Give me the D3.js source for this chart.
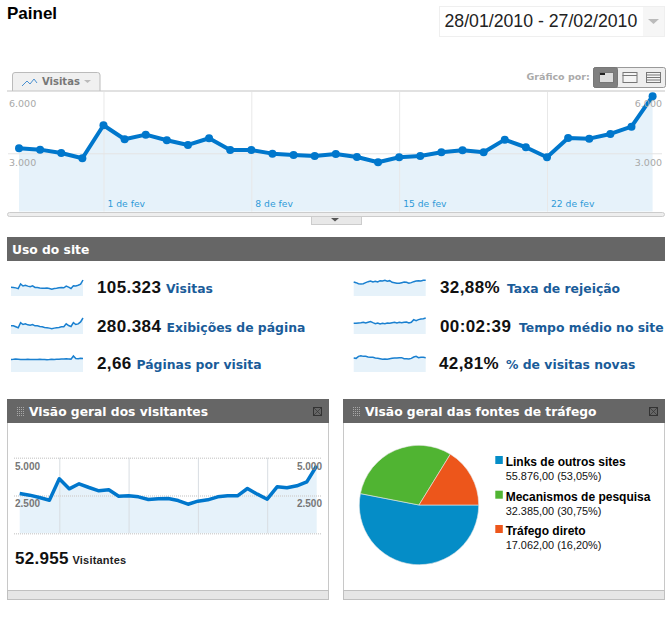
<!DOCTYPE html>
<html>
<head>
<meta charset="utf-8">
<style>
html, body { margin: 0; padding: 0; background: #fff; }
svg { display: block; }
text { font-family: "DejaVu Sans", Verdana, sans-serif; }
text.arial { font-family: "Liberation Sans", Arial, sans-serif; }
</style>
</head>
<body>
<svg id="page" width="670" height="626"></svg>
<script src="https://cdn.jsdelivr.net/npm/d3@7"></script>
<script>
// daily values (28/01 .. 27/02)
var visits = [3258, 3186, 3016, 2742, 4444, 3722, 3959, 3670, 3428, 3773, 3170, 3170, 2980, 2913, 2861, 2964,
    2809, 2536, 2794, 2861, 3052, 3155, 3052, 3701, 3309, 2794, 3789, 3753, 3995, 4371, 5938];
var visitors = [2632, 2522, 2367, 2190, 3606, 2942, 3274, 3030, 2809, 2876, 2455, 2477, 2411, 2234, 2278, 2300,
    2168, 1924, 2124, 2212, 2411, 2477, 2477, 2964, 2588, 2256, 3075, 3008, 3141, 3406, 4468];
var pageViews = [8750, 8750, 7700, 6650, 12250, 10150, 10850, 9800, 9450, 10150, 8750, 8750, 8050, 7700, 7000, 6650,
    6300, 5600, 6300, 6650, 7000, 7700, 7700, 10850, 9100, 8050, 12250, 10150, 10850, 12950, 17150];
var pagesPerVisit = [2.60, 2.62, 2.66, 2.64, 2.58, 2.60, 2.58, 2.62, 2.60, 2.56, 2.60, 2.58, 2.64, 2.60, 2.60, 2.54,
    2.56, 2.62, 2.60, 2.62, 2.64, 2.68, 2.70, 2.72, 2.70, 2.66, 3.30, 2.80, 2.72, 2.84, 2.80];
var bounceRate = [32.1, 30.6, 28.3, 27.5, 28.3, 30.6, 32.9, 34.4, 32.1, 33.7, 32.1, 35.2, 34.4, 35.9, 33.7, 35.2,
    31.4, 30.6, 29.1, 29.1, 30.6, 32.1, 31.4, 29.1, 30.6, 32.9, 34.4, 35.2, 34.4, 35.9, 35.9];
var timeOnSite = [144, 144, 149, 153, 158, 149, 158, 167, 153, 140, 149, 135, 144, 140, 149, 144,
    153, 158, 149, 158, 153, 158, 162, 149, 158, 194, 180, 194, 203, 207, 216];
var newVisits = [42.8, 41.8, 47.9, 50.0, 47.9, 47.9, 45.9, 44.9, 44.9, 42.8, 41.8, 40.8, 38.8, 39.8, 38.8, 40.8,
    41.8, 42.8, 42.8, 43.9, 43.9, 40.8, 40.8, 39.8, 41.8, 45.9, 47.9, 43.9, 44.9, 44.9, 43.9];

var dayTicks = [4, 11, 18, 25];
var dayLabels = ['1 de fev', '8 de fev', '15 de fev', '22 de fev'];

var metricNames = ['Visitas', 'Exibições de página', 'Páginas por visita', 'Taxa de rejeição', 'Tempo médio no site', '% de visitas novas'];
var metricTotals = ['105.323', '280.384', '2,66', '32,88%', '00:02:39', '42,81%'];
var metricSeries = [visits, pageViews, pagesPerVisit, bounceRate, timeOnSite, newVisits];
var metricMax = [5938, 17150, 3.3, 36.7, 216, 49];

var sourceNames = ['Links de outros sites', 'Mecanismos de pesquisa', 'Tráfego direto'];
var sourceValues = [55876, 32385, 17062];
var sourceLabels = ['55.876,00 (53,05%)', '32.385,00 (30,75%)', '17.062,00 (16,20%)'];
var sourceColors = ['#058dc7', '#50b432', '#ed561b'];

var svg = d3.select('#page');
var lineBlue = '#0077cc';
var fillBlue = '#e6f2fa';

function rect(g, x, y, w, h, fill, stroke) {
    return g.append('rect').attr('x', x).attr('y', y).attr('width', w).attr('height', h)
        .attr('fill', fill).attr('stroke', stroke || 'none');
}

function label(g, x, y, str, size, weight, color, anchor) {
    return g.append('text').attr('x', x).attr('y', y).text(str)
        .style('font-size', size + 'px').style('font-weight', weight)
        .attr('fill', color).attr('text-anchor', anchor || 'start');
}

function timeChart(opts) {
    var g = svg.append('g');
    var x = d3.scaleLinear().domain([0, opts.data.length - 1]).range(opts.xRange);
    var y = d3.scaleLinear().domain([0, opts.yMax]).range(opts.yRange);
    var area = d3.area().x(function(d, i) { return x(i); }).y0(y(0)).y1(function(d) { return y(d); });
    var line = d3.line().x(function(d, i) { return x(i); }).y(function(d) { return y(d); });

    g.append('path').attr('d', area(opts.data)).attr('fill', fillBlue);

    // vertical grid + date labels
    var xAxis = d3.axisBottom(x).tickValues(dayTicks)
        .tickSize(opts.gridTop - opts.yRange[0])
        .tickFormat(function(d, i) { return opts.dayLabels ? opts.dayLabels[i] : ''; });
    var gx = g.append('g').attr('transform', 'translate(0,' + opts.yRange[0] + ')').call(xAxis);
    gx.select('.domain').remove();
    gx.selectAll('line').attr('stroke', opts.gridColor);
    gx.selectAll('text').attr('y', -5).attr('x', 3.5).attr('dy', 0).attr('text-anchor', 'start')
        .style('font-size', '9.2px').style('font-family', '"DejaVu Sans"').attr('fill', '#2f9ad8');

    // horizontal grid
    var gy = g.append('g').attr('transform', 'translate(' + opts.axisX[0] + ',0)')
        .call(d3.axisLeft(y).tickValues(opts.gridValues).tickSize(opts.axisX[0] - opts.axisX[1]).tickFormat(''));
    gy.select('.domain').remove();
    gy.selectAll('line').attr('stroke', opts.hColor).attr('stroke-dasharray', opts.hDash || null)
        .attr('stroke-width', opts.hDash ? 1.5 : 1);

    g.append('path').attr('d', line(opts.data)).attr('fill', 'none')
        .attr('stroke', lineBlue).attr('stroke-width', opts.lineWidth).attr('stroke-linejoin', 'round');

    if (opts.dots) {
        g.selectAll('circle').data(opts.data).enter().append('circle')
            .attr('cx', function(d, i) { return x(i); }).attr('cy', function(d) { return y(d); })
            .attr('r', opts.dots).attr('fill', lineBlue);
    }

    // y labels, printed just under their gridline on both sides
    var axes = [[d3.axisRight(y), opts.axisX[0] + 1, 'start'], [d3.axisLeft(y), opts.axisX[1], 'end']];
    axes.forEach(function(a) {
        var ga = g.append('g').attr('transform', 'translate(' + a[1] + ',' + opts.labelDrop + ')')
            .call(a[0].tickValues(opts.yTicks).tickSize(0).tickPadding(0).tickFormat(function(d) {
                return d3.format('.3f')(d / 1000);
            }));
        ga.select('.domain').remove();
        ga.selectAll('text').attr('x', 0).attr('dy', 0).attr('text-anchor', a[2])
            .style('font-size', opts.tickSize + 'px').style('font-weight', opts.tickWeight)
            .style('font-family', opts.tickFont).attr('fill', opts.tickColor);
    });
    return g;
}

function sparkline(data, max, x0, baseY) {
    var x = d3.scaleLinear().domain([0, data.length - 1]).range([x0, x0 + 72]);
    var y = d3.scaleLinear().domain([0, max]).range([baseY, baseY - 16]);
    var area = d3.area().x(function(d, i) { return x(i); }).y0(baseY).y1(function(d) { return y(d); });
    var line = d3.line().x(function(d, i) { return x(i); }).y(function(d) { return y(d); });
    svg.append('path').attr('d', area(data)).attr('fill', fillBlue);
    svg.append('path').attr('d', line(data)).attr('fill', 'none').attr('stroke', '#1a80d0').attr('stroke-width', 1.5);
}

function panelHeader(x, w, title) {
    rect(svg, x + 0.5, 399.5, w, 200, '#fff', '#c8c8c8');
    rect(svg, x, 399, w + 1, 24, '#666');
    rect(svg, x + 0.5, 590.5, w, 9, '#e6e6e6', '#c0c0c0');
    d3.range(4).forEach(function(i) {
        svg.append('line').attr('x1', x + 10.5 + i * 2).attr('x2', x + 10.5 + i * 2).attr('y1', 407).attr('y2', 416)
            .attr('stroke', '#a8a8a8').attr('stroke-dasharray', '1 1');
    });
    label(svg, x + 22, 416, title, 12.3, 'bold', '#fff');
    var cx = x + 306.5;
    rect(svg, cx, 407.5, 8, 8, 'none', '#333');
    svg.append('path').attr('d', 'M' + cx + ',407.5l8,8M' + (cx + 8) + ',407.5l-8,8').attr('stroke', '#333').attr('stroke-width', 0.7);
}

// title and date picker
label(svg, 7, 19, 'Painel', 17, 'bold', '#000').classed('arial', true);
rect(svg, 439.5, 6.5, 225, 30, '#fff', '#efefef');
rect(svg, 643, 7, 21, 29, '#f6f6f6');
label(svg, 444.5, 27, '28/01/2010 - 27/02/2010', 17.7, 'normal', '#222').classed('arial', true);
svg.append('path').attr('d', 'M648,19h11l-5.5,5z').attr('fill', '#bbb');

// chart tab
svg.append('path').attr('d', 'M12.5,91V75q0-2.5,2.5-2.5h82.5q2.500,0,2.500,2.500V91').attr('fill', '#f0f0f0').attr('stroke', '#bbb');
svg.append('path').attr('d', 'M22,86l5-5 3,3 4-5 3,4').attr('fill', 'none').attr('stroke', '#4a90d0').attr('stroke-width', 1);
label(svg, 42, 85, 'Visitas', 10, 'bold', '#777');
svg.append('path').attr('d', 'M84,80h7l-3.5,3z').attr('fill', '#bbb');

// chart-by buttons
label(svg, 526.5, 80, 'Gráfico por:', 9.5, 'bold', '#aaa');
rect(svg, 593.5, 67.5, 72, 20, '#eee', '#999').attr('rx', 2);
rect(svg, 593.5, 67.5, 24, 20, '#808080', '#777').attr('rx', 2);
[599, 622.500, 646].forEach(function(bx, i) {
    rect(svg, bx + 0.5, 72.5, 14, 10, i === 0 ? '#ddd' : '#f4f4f4', '#777');
});
rect(svg, 600, 73, 5, 2, '#222');
svg.append('line').attr('x1', 622.5).attr('x2', 637).attr('y1', 75.5).attr('y2', 75.5).attr('stroke', '#777');
[75, 77.500, 80].forEach(function(ly) {
    svg.append('line').attr('x1', 646.5).attr('x2', 660.5).attr('y1', ly).attr('y2', ly).attr('stroke', '#777');
});

// main chart
svg.append('line').attr('x1', 7).attr('x2', 665).attr('y1', 91).attr('y2', 91).attr('stroke', '#c4c4c4').attr('stroke-width', 1.2);
timeChart({
    data: visits, xRange: [19, 652.6], yMax: 6000, yRange: [211.5, 95], gridTop: 92,
    yTicks: [3000, 6000], gridValues: [3000], axisX: [8, 662], labelDrop: 11.8,
    dayLabels: dayLabels, gridColor: '#e8e8e8', hColor: '#e4e4e4', lineWidth: 4, dots: 4,
    tickSize: 9.500, tickWeight: 'normal', tickColor: '#a8a8a8', tickFont: '"DejaVu Sans"'
});
rect(svg, 7.5, 212.5, 657, 4, '#eee', '#ccc').attr('rx', 2);
rect(svg, 311.5, 216.5, 50, 8, '#e8e8e8', '#ccc');
svg.append('path').attr('d', 'M331,218h8l-4,3.500z').attr('fill', '#555');

// site usage
rect(svg, 7, 237, 658, 24, '#666');
label(svg, 12, 254, 'Uso do site', 12.3, 'bold', '#fff');

var totalX = [97, 97, 97, 440, 440, 439];
var nameX = [166, 166.500, 136.500, 507, 519, 506];
var rowBase = [296, 334, 372];
var rowText = [293.300, 331.500, 369.300];
metricNames.forEach(function(name, i) {
    var row = i % 3;
    sparkline(metricSeries[i], metricMax[i], i < 3 ? 11 : 353.700, rowBase[row]);
    label(svg, totalX[i], rowText[row], metricTotals[i], 17, 'bold', '#111').classed('arial', true).style('letter-spacing', '0.4px');
    label(svg, nameX[i], rowText[row], name, 12.4, 'bold', '#1a5c99');
});

// visitors panel
panelHeader(7, 321, 'Visão geral dos visitantes');
timeChart({
    data: visitors, xRange: [19.700, 316.700], yMax: 5000, yRange: [533.300, 457.700], gridTop: 457.700,
    yTicks: [2500, 5000], gridValues: [0, 2500, 5000], axisX: [14, 322], labelDrop: 11.300,
    gridColor: '#d8dde2', hColor: '#d4d4d4', hDash: '1 1', lineWidth: 3.5, dots: 0,
    tickSize: 10, tickWeight: 'bold', tickColor: '#777', tickFont: '"Liberation Sans"'
});
label(svg, 15, 564, '52.955', 17, 'bold', '#111').classed('arial', true).style('letter-spacing', '0.3px');
label(svg, 72.500, 564, 'Visitantes', 11, 'bold', '#222').classed('arial', true).style('letter-spacing', '0.2px');

// traffic sources panel
panelHeader(343, 321, 'Visão geral das fontes de tráfego');
var pie = d3.pie().sort(null).startAngle(Math.PI / 2).endAngle(Math.PI * 2.5);
var arc = d3.arc().innerRadius(0).outerRadius(59.700);
svg.append('g').attr('transform', 'translate(419,505)')
    .selectAll('path').data(pie(sourceValues)).enter().append('path')
    .attr('d', arc).attr('fill', function(d, i) { return sourceColors[i]; })
    .attr('stroke', '#e8e8e8').attr('stroke-width', 0.6);

var legendY = [466, 500.700, 535];
sourceNames.forEach(function(name, i) {
    rect(svg, 495.300, legendY[i] - 10, 7.500, 8, sourceColors[i]);
    label(svg, 505.700, legendY[i], name, 12, 'bold', '#000').classed('arial', true);
    label(svg, 505.700, legendY[i] + 14, sourceLabels[i], 10.9, 'normal', '#111').classed('arial', true);
});
</script>
</body>
</html>
